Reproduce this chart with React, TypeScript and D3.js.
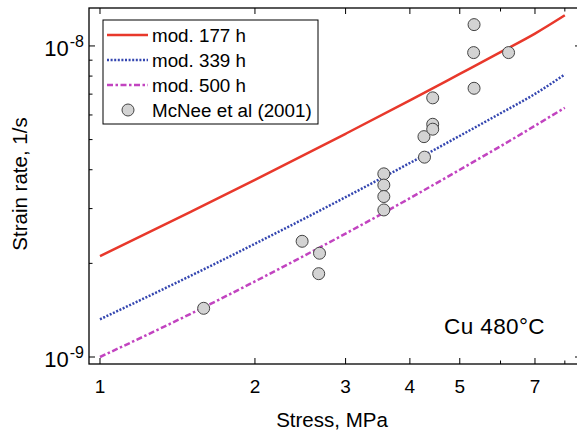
import React, { useEffect, useRef } from "react";
import * as d3 from "d3";

// model curves
const modelStress = [1, 1.5, 2, 3, 4, 5, 6, 7, 8];
const rate177 = [2.11e-9, 2.93e-9, 3.71e-9, 5.22e-9, 6.68e-9, 8.13e-9, 9.55e-9, 1.096e-8, 1.255e-8];
const rate339 = [1.322e-9, 1.824e-9, 2.312e-9, 3.265e-9, 4.205e-9, 5.14e-9, 6.075e-9, 7.01e-9, 8.1e-9];
const rate500 = [1.0e-9, 1.377e-9, 1.75e-9, 2.493e-9, 3.24e-9, 4.0e-9, 4.76e-9, 5.54e-9, 6.33e-9];

// McNee et al (2001)
const obsStress = [1.59, 2.47, 2.67, 2.66, 3.56, 3.56, 3.56, 3.56, 4.27, 4.26, 4.43, 4.43, 4.43, 5.33, 5.32, 6.22, 5.33];
const obsRate = [1.434e-9, 2.355e-9, 2.156e-9, 1.853e-9, 3.88e-9, 3.57e-9, 3.28e-9, 2.97e-9, 4.39e-9, 5.11e-9, 6.81e-9, 5.6e-9, 5.4e-9, 1.171e-8, 9.52e-9, 9.52e-9, 7.31e-9];

const xTicks = [1, 2, 3, 4, 5, 6, 7, 8];
const xLabels = [1, 2, 3, 4, 5, 7];
const yMajor = [1e-9, 1e-8];
const yMinor = [2e-9, 3e-9, 4e-9, 5e-9, 6e-9, 7e-9, 8e-9, 9e-9];

const series = [
  { name: "mod. 177 h", values: rate177, color: "#e8382b", dash: null },
  { name: "mod. 339 h", values: rate339, color: "#3446b0", dash: "2,1.6" },
  { name: "mod. 500 h", values: rate500, color: "#c244c0", dash: "6,2.5,2.5,2.5" },
];

const FONT = "'Liberation Sans', Arial, sans-serif";

const App = () => {
  const ref = useRef<SVGSVGElement>(null);

  useEffect(() => {
    if (!ref.current) return;
    const width = 577;
    const height = 432;
    const left = 89, right = 581, top = 8, bottom = 364;

    const svg = d3.select(ref.current);
    svg.selectAll("*").remove();
    svg.attr("width", width).attr("height", height).style("font-family", FONT);

    const x = d3.scaleLog().domain([0.952, 8.6]).range([left, right]);
    const y = d3.scaleLog().domain([Math.pow(10, -9.0225), Math.pow(10, -7.878)]).range([bottom, top]);

    const clip = svg.append("clipPath").attr("id", "plot-clip");
    clip.append("rect").attr("x", left).attr("y", top).attr("width", right - left).attr("height", bottom - top);

    // model lines
    const line = d3
      .line<number>()
      .x((_, i) => x(modelStress[i]))
      .y((d) => y(d))
      .curve(d3.curveMonotoneX);

    const plot = svg.append("g").attr("clip-path", "url(#plot-clip)");
    series.forEach((s) => {
      plot
        .append("path")
        .attr("d", line(s.values))
        .attr("fill", "none")
        .attr("stroke", s.color)
        .attr("stroke-width", 2.5)
        .attr("stroke-dasharray", s.dash);
    });

    // observations
    plot
      .selectAll("circle")
      .data(obsStress)
      .enter()
      .append("circle")
      .attr("cx", (d) => x(d))
      .attr("cy", (_, i) => y(obsRate[i]))
      .attr("r", 6)
      .attr("fill", "#d3d3d3")
      .attr("stroke", "#444")
      .attr("stroke-width", 1);

    // frame
    svg
      .append("rect")
      .attr("x", left)
      .attr("y", top)
      .attr("width", right - left)
      .attr("height", bottom - top)
      .attr("fill", "none")
      .attr("stroke", "#000")
      .attr("stroke-width", 1.3);

    // ticks on all four sides, pointing inward
    const tk = svg.append("g").attr("stroke", "#000").attr("stroke-width", 1);
    xTicks.forEach((v) => {
      const len = xLabels.includes(v) ? 6 : 3.5;
      tk.append("line").attr("x1", x(v)).attr("x2", x(v)).attr("y1", bottom).attr("y2", bottom - len);
      tk.append("line").attr("x1", x(v)).attr("x2", x(v)).attr("y1", top).attr("y2", top + len);
    });
    [...yMajor.map((v) => [v, 6]), ...yMinor.map((v) => [v, 3.5])].forEach(([v, len]) => {
      tk.append("line").attr("x1", left).attr("x2", left + len).attr("y1", y(v)).attr("y2", y(v));
      tk.append("line").attr("x1", right).attr("x2", right - len).attr("y1", y(v)).attr("y2", y(v));
    });

    svg
      .append("g")
      .selectAll("text")
      .data(xLabels)
      .enter()
      .append("text")
      .attr("x", (d) => x(d))
      .attr("y", 393)
      .attr("text-anchor", "middle")
      .attr("font-size", 19)
      .text((d) => d);

    yMajor.forEach((v) => {
      const t = svg
        .append("text")
        .attr("x", 84)
        .attr("y", y(v) + 10)
        .attr("text-anchor", "end")
        .attr("font-size", 22);
      t.append("tspan").text("10");
      t.append("tspan")
        .attr("dx", 1)
        .attr("dy", -9)
        .attr("font-size", 16)
        .text("-" + Math.round(-Math.log10(v)));
    });

    svg
      .append("text")
      .attr("x", 332)
      .attr("y", 427)
      .attr("text-anchor", "middle")
      .attr("font-size", 20.5)
      .text("Stress, MPa");

    svg
      .append("text")
      .attr("transform", "translate(27,184) rotate(-90)")
      .attr("text-anchor", "middle")
      .attr("font-size", 20.5)
      .text("Strain rate, 1/s");

    svg
      .append("text")
      .attr("x", 444)
      .attr("y", 334)
      .attr("font-size", 22.5)
      .attr("letter-spacing", 0.4)
      .text("Cu 480\u00b0C");

    // legend
    const lg = svg.append("g");
    lg.append("rect")
      .attr("x", 103)
      .attr("y", 20)
      .attr("width", 215)
      .attr("height", 104)
      .attr("fill", "#fff")
      .attr("stroke", "#000")
      .attr("stroke-width", 1);
    const rowY = [35, 60, 85, 110];
    series.forEach((s, i) => {
      lg.append("line")
        .attr("x1", 107)
        .attr("x2", 148)
        .attr("y1", rowY[i])
        .attr("y2", rowY[i])
        .attr("stroke", s.color)
        .attr("stroke-width", 2.5)
        .attr("stroke-dasharray", s.dash);
    });
    lg.append("circle")
      .attr("cx", 128)
      .attr("cy", rowY[3])
      .attr("r", 6)
      .attr("fill", "#d3d3d3")
      .attr("stroke", "#444");
    [...series.map((s) => s.name), "McNee et al (2001)"].forEach((name, i) => {
      lg.append("text")
        .attr("x", 152)
        .attr("y", rowY[i] + 6.5)
        .attr("font-size", 18.8)
        .text(name);
    });
  }, []);

  return <svg ref={ref} style={{ position: "absolute", left: 0, top: 0 }}></svg>;
};

export default App;
